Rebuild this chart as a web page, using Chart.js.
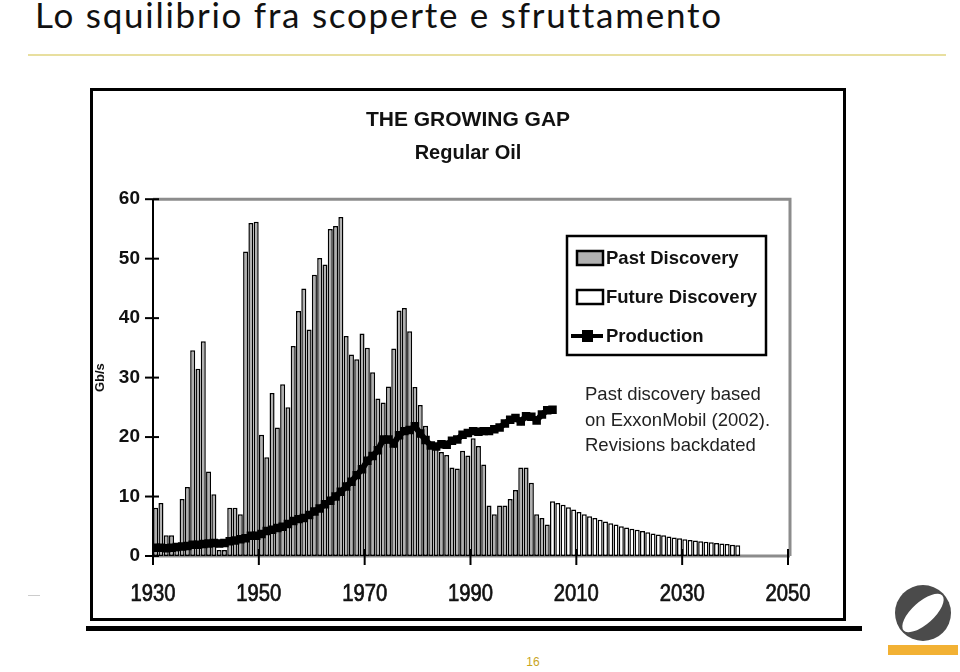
<!DOCTYPE html>
<html>
<head>
<meta charset="utf-8">
<script src="https://cdn.jsdelivr.net/npm/chart.js@4/dist/chart.umd.min.js"></script>
<style>
  html, body { margin: 0; padding: 0; background: #fff; }
  body { width: 960px; height: 672px; position: relative; overflow: hidden; }
  #pageTitle { position: absolute; left: 35px; top: -7px; font-family: 'Lato', sans-serif; font-weight: 400; font-size: 35px; letter-spacing: 1.75px; color: #111; white-space: nowrap; }
  #rule { position: absolute; left: 28px; top: 54px; width: 918px; height: 2px; background: #e8df9f; }
  #frame { position: absolute; left: 90px; top: 88px; width: 750px; height: 527px; border: 3px solid #000; }
  #shadow { position: absolute; left: 86px; top: 626px; width: 776px; height: 5px; background: #000; }
  #pageNum { position: absolute; left: 520px; top: 655px; width: 26px; text-align: center; font-family: 'Liberation Sans', sans-serif; font-size: 12px; color: #c9a51e; }
  #dash { position: absolute; left: 28px; top: 595px; width: 12px; height: 1px; background: #ccc; }
  #logo { position: absolute; left: 886px; top: 584px; }
  canvas { display: block; }
</style>
</head>
<body>
<div id="pageTitle">Lo squilibrio fra scoperte e sfruttamento</div>
<div id="rule"></div>
<div id="dash"></div>
<div id="frame"><canvas id="c" width="750" height="527"></canvas></div>
<div id="shadow"></div>
<div id="pageNum">16</div>
<svg id="logo" width="74" height="74" viewBox="0 0 74 74">
  <circle cx="37" cy="29" r="28" fill="#4b4b4b"/>
  <ellipse cx="37" cy="29" rx="26" ry="11" transform="rotate(-42 37 29)" fill="#fff"/>
  <rect x="2" y="61" width="70" height="10" fill="#f2b134"/>
</svg>
<script>
// ---- data ----
const pastStartYear = 1930;
const pastDiscovery = [
  8.1, 8.9, 3.5, 3.5, 1.0, 9.6, 11.6, 34.6, 31.5, 36.1,
  14.2, 10.4, 1.0, 1.0, 8.1, 8.1, 7.0, 51.2, 56.0, 56.2,
  20.4, 16.6, 27.4, 21.6, 28.9, 25.0, 35.3, 41.2, 45.0, 38.1,
  47.3, 50.1, 49.0, 55.0, 55.5, 57.0, 37.0, 33.9, 33.1, 37.4,
  35.0, 30.9, 26.5, 25.8, 28.5, 34.9, 41.3, 41.7, 37.8, 28.4,
  25.4, 21.9, 19.1, 18.3, 17.5, 17.0, 14.9, 14.7, 17.7, 16.9,
  19.8, 18.5, 15.4, 8.5, 7.0, 8.5, 8.5, 9.6, 11.1, 14.9,
  14.9, 12.3, 7.0, 6.4, 5.3
];
const futureStartYear = 2005;
const futureDiscovery = [
  9.2, 8.9, 8.6, 8.2, 7.8, 7.4, 7.0, 6.7, 6.4, 6.1,
  5.8, 5.5, 5.3, 5.0, 4.8, 4.6, 4.4, 4.2, 4.0, 3.8,
  3.6, 3.5, 3.3, 3.1, 3.0, 2.8, 2.7, 2.6, 2.5, 2.4,
  2.3, 2.2, 2.1, 2.0, 1.9, 1.8
];
const productionStartYear = 1930;
const production = [
  1.4, 1.4, 1.3, 1.4, 1.5, 1.6, 1.7, 1.9, 1.9, 2.0,
  2.1, 2.2, 2.1, 2.2, 2.5, 2.6, 2.8, 3.0, 3.4, 3.4,
  3.7, 4.2, 4.4, 4.7, 4.9, 5.4, 5.9, 6.2, 6.4, 6.9,
  7.5, 8.0, 8.7, 9.3, 10.0, 10.8, 11.7, 12.5, 13.6, 14.6,
  16.0, 16.8, 17.8, 19.6, 19.6, 18.9, 20.3, 21.0, 21.2, 21.8,
  20.6, 19.5, 18.6, 18.4, 18.8, 18.7, 19.4, 19.6, 20.4, 20.7,
  21.0, 20.9, 21.0, 21.0, 21.3, 21.6, 22.3, 22.9, 23.2, 22.6,
  23.5, 23.4, 22.8, 23.8, 24.5, 24.6
];
const xTickYears = [1930, 1950, 1970, 1990, 2010, 2030, 2050];
const yTickValues = [0, 10, 20, 30, 40, 50, 60];
const seriesLabels = ['Past Discovery', 'Future Discovery', 'Production'];
const chartTitle = 'THE GROWING GAP';
const chartSubtitle = 'Regular Oil';
const yAxisTitle = 'Gb/s';
const noteLines = ['Past discovery based', 'on ExxonMobil (2002).', 'Revisions backdated'];

// each bar fills its year slot [year, year+1)
const toPoints = (start, arr) => arr.map((v, i) => ({ x: start + i + 0.5, y: v }));

const FONT = "'Liberation Sans', Arial, sans-serif";
Chart.defaults.font.family = FONT;
Chart.defaults.color = '#111';

const decor = {
  id: 'decor',
  beforeDatasetsDraw(chart) {
    const { ctx, chartArea: a } = chart;
    ctx.save();
    ctx.strokeStyle = '#8c8c8c';
    ctx.lineWidth = 3;
    ctx.beginPath();
    ctx.moveTo(a.left, a.bottom);
    ctx.lineTo(a.right + 2, a.bottom);
    ctx.stroke();
    ctx.restore();
  },
  afterDatasetsDraw(chart) {
    const { ctx, chartArea: a, scales: { x, y } } = chart;
    ctx.save();
    ctx.strokeStyle = '#8c8c8c';
    ctx.lineWidth = 3;
    ctx.beginPath();
    ctx.moveTo(a.left, a.top);
    ctx.lineTo(a.right + 2, a.top);
    ctx.lineTo(a.right + 2, a.bottom);
    ctx.stroke();
    ctx.strokeStyle = '#000';
    ctx.lineWidth = 2;
    ctx.beginPath();
    ctx.moveTo(a.left, a.top);
    ctx.lineTo(a.left, a.bottom + 6);
    ctx.stroke();
    yTickValues.forEach(v => {
      const py = y.getPixelForValue(v);
      ctx.beginPath();
      ctx.moveTo(a.left - 8, py);
      ctx.lineTo(a.left + 6, py);
      ctx.stroke();
    });
    xTickYears.forEach(v => {
      const px = x.getPixelForValue(v);
      ctx.beginPath();
      ctx.moveTo(px, a.bottom - 7);
      ctx.lineTo(px, a.bottom + 9);
      ctx.stroke();
    });
    // x tick labels (narrow face)
    ctx.fillStyle = '#111';
    ctx.font = '23px ' + FONT;
    ctx.textAlign = 'center';
    ctx.textBaseline = 'middle';
    xTickYears.forEach(v => {
      ctx.save();
      ctx.translate(x.getPixelForValue(v), a.bottom + 39);
      ctx.scale(0.88, 1);
      ctx.fillText(String(v), 0, 0);
      ctx.lineWidth = 0.7;
      ctx.strokeStyle = '#111';
      ctx.strokeText(String(v), 0, 0);
      ctx.restore();
    });
    ctx.restore();
  },
  afterDraw(chart) {
    const { ctx } = chart;
    const o = chart.options.plugins.decor;
    const L = o.legend;
    ctx.save();
    ctx.strokeStyle = '#000';
    ctx.lineWidth = 2.5;
    ctx.strokeRect(L.left, L.top, L.width, L.height);
    ctx.font = 'bold 18.5px ' + FONT;
    ctx.textBaseline = 'middle';
    ctx.textAlign = 'left';
    const ds = chart.data.datasets;
    ds.forEach((d, i) => {
      const cy = L.top + L.rowStart + i * L.rowGap;
      if (d.type === 'bar') {
        ctx.fillStyle = d.backgroundColor;
        ctx.fillRect(L.left + 10, cy - 7, 26, 14);
        ctx.lineWidth = 2.5;
        ctx.strokeStyle = '#000';
        ctx.strokeRect(L.left + 10, cy - 7, 26, 14);
      } else {
        ctx.strokeStyle = '#000';
        ctx.lineWidth = 4;
        ctx.beginPath();
        ctx.moveTo(L.left + 4, cy);
        ctx.lineTo(L.left + 36, cy);
        ctx.stroke();
        ctx.fillStyle = '#000';
        ctx.fillRect(L.left + 15, cy - 6, 11, 12);
      }
      ctx.fillStyle = '#111';
      ctx.fillText(d.label, L.left + 39, cy + 1);
    });
    const N = o.note;
    ctx.font = '18.5px ' + FONT;
    ctx.fillStyle = '#222';
    noteLines.forEach((t, i) => ctx.fillText(t, N.left, N.top + i * N.gap));
    ctx.restore();
  }
};

new Chart(document.getElementById('c'), {
  type: 'bar',
  data: {
    datasets: [
      {
        type: 'bar', label: seriesLabels[0],
        data: toPoints(pastStartYear, pastDiscovery),
        backgroundColor: '#b0b0b0', borderColor: '#000', borderWidth: 1.5,
        borderSkipped: false, grouped: false,
        barPercentage: 0.95, categoryPercentage: 1, order: 2
      },
      {
        type: 'bar', label: seriesLabels[1],
        data: toPoints(futureStartYear, futureDiscovery),
        backgroundColor: '#ffffff', borderColor: '#000', borderWidth: 1.5,
        borderSkipped: false, grouped: false,
        barPercentage: 0.95, categoryPercentage: 1, order: 2
      },
      {
        type: 'line', label: seriesLabels[2],
        data: toPoints(productionStartYear, production),
        borderColor: '#000', borderWidth: 6, tension: 0,
        pointStyle: 'rect', pointRadius: 6, pointBackgroundColor: '#000',
        pointBorderColor: '#000', pointBorderWidth: 0, order: 1
      }
    ]
  },
  options: {
    responsive: false,
    animation: false,
    events: [],
    layout: { padding: 0 },
    plugins: {
      legend: { display: false },
      tooltip: { enabled: false },
      title: {
        display: true, text: chartTitle,
        font: { size: 21, weight: 'bold', family: FONT }, color: '#111',
        padding: { top: 17, bottom: 4 }
      },
      subtitle: {
        display: true, text: chartSubtitle,
        font: { size: 20, weight: 'bold', family: FONT }, color: '#111',
        padding: { top: 4, bottom: 34 }
      },
      decor: {
        legend: { left: 474, top: 145, width: 199, height: 119, rowStart: 22, rowGap: 39 },
        note: { left: 492, top: 304, gap: 25.5 }
      }
    },
    scales: {
      x: {
        type: 'linear', min: 1930, max: 2050, offset: false,
        afterBuildTicks: s => { s.ticks = xTickYears.map(v => ({ value: v })); },
        afterFit: s => { s.height = 62; },
        ticks: { display: false },
        grid: { display: false, drawTicks: false },
        border: { display: false }
      },
      y: {
        min: 0, max: 60,
        afterBuildTicks: s => { s.ticks = yTickValues.map(v => ({ value: v })); },
        afterFit: s => { s.width = 60; },
        ticks: { padding: 13, font: { size: 19, weight: 'bold', family: FONT }, color: '#111' },
        grid: { display: false, drawTicks: false },
        border: { display: false },
        title: { display: true, text: yAxisTitle, font: { size: 13, weight: 'bold', family: FONT }, color: '#111', padding: { top: 0, bottom: 2 } }
      },
      yRight: {
        position: 'right', display: true,
        afterFit: s => { s.width = 55; },
        ticks: { display: false },
        grid: { display: false, drawTicks: false },
        border: { display: false }
      }
    }
  },
  plugins: [decor]
});
</script>
</body>
</html>
